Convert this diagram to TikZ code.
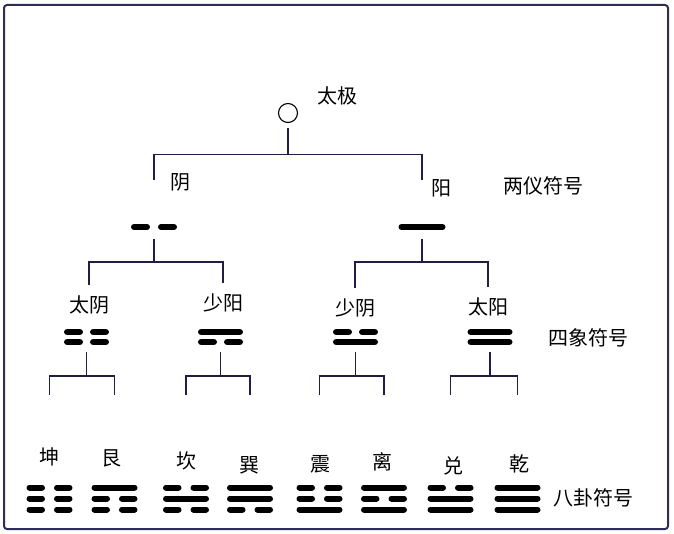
\documentclass[tikz,border=0pt]{standalone}
\usepackage{fontspec}
\newfontfamily\cjk{Noto Sans CJK SC}
\usetikzlibrary{calc, positioning}
\definecolor{inkNavy}{RGB}{30,30,70}
\definecolor{frameNavy}{RGB}{44,44,86}
\tikzset{
    frameBox/.style={draw=frameNavy, line width=2pt, rounded corners=3pt},
    branch/.style={draw=inkNavy, line width=1.6pt},
    yao/.style={line width=6pt, line cap=round, black},
    yaoThick/.style={line width=6.5pt, line cap=round, black},
    hanzi/.style={font=\cjk\fontsize{20}{20}\selectfont, inner sep=0pt},
    symNode/.style={inner sep=0pt, minimum width=46pt, minimum height=#1},
    symNode/.default=6pt,
    taijiNode/.style={circle, draw, line width=1.1pt, inner sep=0pt, minimum size=19pt},
}
\newcommand{\drawYao}[6][yao]{
    % 一爻: 节点, 纵向偏移, 外端, 内端, 1 = 阳爻 / 0 = 阴爻
    \ifnum#6=1
        \draw[#1] ($(#2)+(-#4,#3)$) -- ($(#2)+(#4,#3)$);
    \else
        \draw[#1] ($(#2)+(-#4,#3)$) -- ($(#2)+(-#5,#3)$);
        \draw[#1] ($(#2)+(#5,#3)$) -- ($(#2)+(#4,#3)$);
    \fi
}
\newcommand{\drawGua}[4]{
    % 三爻, 自上而下
    \drawYao{#1}{-11}{20}{7.5}{#2}
    \drawYao{#1}{0}{20}{7.5}{#3}
    \drawYao{#1}{11}{20}{7.5}{#4}
}
\newcommand{\drawXiang}[3]{
    % 两爻, 自上而下
    \drawYao[yaoThick]{#1}{-5}{19.25}{6.75}{#2}
    \drawYao[yaoThick]{#1}{5}{19.25}{6.75}{#3}
}
\newcommand{\drawFork}[6]{
    % 分叉: 父节点, 左子, 右子, 起点间隙, 下垂长度, 末端留空
    \draw[branch, shorten <=#4] (#1.south) -- ++(0,#5) coordinate (#1-fork);
    \draw[branch, shorten >=#6] (#1-fork) -| (#2.north);
    \draw[branch, shorten >=#6] (#1-fork) -| (#3.north);
}

\begin{document}
\begin{tikzpicture}[x=1pt, y=-1pt]

        \useasboundingbox (0,0) rectangle (674,534);
        \draw[frameBox] (4,5) rectangle (668,529);

        % 太极
        \node[taijiNode] (taiji) at (288,113) {};
        \node[hanzi] (taijiT) at (337,96) {太极};

        % 两仪
        \node[symNode] (yinSym) at (154,227) {};
        \node[symNode] (yangSym) at (422,227) {};
        \drawYao{yinSym}{0}{20}{7}{0}
        \drawYao{yangSym}{0}{20.5}{7}{1}
        \node[hanzi] (yinT) at (180.5,182.5) {阴};
        \node[hanzi] (yangT) at (441,188) {阳};
        \node[hanzi] (liangyi) at (543,186) {两仪符号};

        % 四象
        \node[hanzi] (taiyinT) at (89,305) {太阴};
        \node[hanzi] (shaoyangT) at (223,303) {少阳};
        \node[hanzi] (shaoyinT) at (355,308) {少阴};
        \node[hanzi] (taiyangT) at (488,307) {太阳};
        \node[symNode=16pt] (taiyinSym) at (86.5,337) {};
        \node[symNode=16pt] (shaoyangSym) at (220.5,337) {};
        \node[symNode=16pt] (shaoyinSym) at (355.5,337) {};
        \node[symNode=16pt] (taiyangSym) at (490,337) {};
        \drawXiang{taiyinSym}{0}{0}
        \drawXiang{shaoyangSym}{1}{0}
        \drawXiang{shaoyinSym}{0}{1}
        \drawXiang{taiyangSym}{1}{1}
        \node[hanzi] (sixiang) at (588,338) {四象符号};

        % 八卦
        \node[hanzi] (kunT) at (49.6,457) {坤};
        \node[hanzi] (genT) at (111,458) {艮};
        \node[hanzi] (kanT) at (186,461) {坎};
        \node[hanzi] (xunT) at (249,465) {巽};
        \node[hanzi] (zhenT) at (320.5,464) {震};
        \node[hanzi] (liT) at (382,462) {离};
        \node[hanzi] (duiT) at (453,466) {兑};
        \node[hanzi] (qianT) at (519.5,464) {乾};
        \node[symNode=28pt] (kun) at (49.5,498.5) {};
        \node[symNode=28pt] (gen) at (114.5,498.5) {};
        \node[symNode=28pt] (kan) at (186,498.5) {};
        \node[symNode=28pt] (xun) at (250,498.5) {};
        \node[symNode=28pt] (zhen) at (319.5,498.5) {};
        \node[symNode=28pt] (li) at (384,498.5) {};
        \node[symNode=28pt] (dui) at (450.5,498.5) {};
        \node[symNode=28pt] (qian) at (517.5,498.5) {};
        \drawGua{kun}{0}{0}{0}
        \drawGua{gen}{1}{0}{0}
        \drawGua{kan}{0}{1}{0}
        \drawGua{xun}{1}{1}{0}
        \drawGua{zhen}{0}{0}{1}
        \drawGua{li}{1}{0}{1}
        \drawGua{dui}{0}{1}{1}
        \drawGua{qian}{1}{1}{1}
        \node[hanzi] (bagua) at (593,498) {八卦符号};

        \drawFork{taiji}{yinSym}{yangSym}{5pt}{31.5}{44pt}
        \drawFork{yinSym}{taiyinT}{shaoyangT}{9pt}{32}{11pt}
        \drawFork{yangSym}{shaoyinT}{taiyangT}{9pt}{32}{11pt}
        \drawFork{taiyinSym}{kun}{gen}{7pt}{31}{89.5pt}
        \drawFork{shaoyangSym}{kan}{xun}{7pt}{31}{89.5pt}
        \drawFork{shaoyinSym}{zhen}{li}{7pt}{31}{89.5pt}
        \drawFork{taiyangSym}{dui}{qian}{7pt}{31}{89.5pt}

    \end{tikzpicture}
\end{document}
